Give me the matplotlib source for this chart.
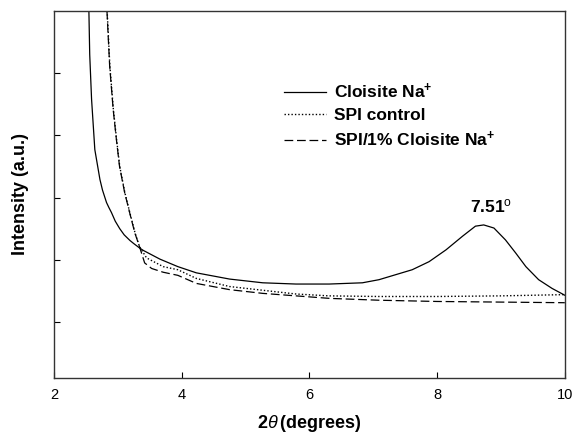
import matplotlib
matplotlib.use('Agg')
import matplotlib.pyplot as plt

plt.rcParams['font.family'] = ['Liberation Sans', 'DejaVu Sans']
plt.rcParams['mathtext.fontset'] = 'custom'
plt.rcParams['mathtext.rm'] = 'Liberation Sans'
plt.rcParams['mathtext.bf'] = 'Liberation Sans:bold'
plt.rcParams['mathtext.it'] = 'Liberation Sans:italic'

# Cloisite Na+
x_cloisite = [2.547, 2.56, 2.589, 2.64, 2.72, 2.76, 2.823, 2.86, 2.90, 2.96, 3.03, 3.10,
              3.19, 3.25, 3.34, 3.40, 3.66, 3.94, 4.23, 4.75, 5.27, 5.79, 6.31, 6.83,
              7.09, 7.61, 7.875, 8.14, 8.40, 8.60, 8.73, 8.89, 9.07, 9.23, 9.39, 9.59,
              9.80, 10.0]
y_cloisite = [6.00, 5.30, 4.58, 3.77, 3.29, 3.12, 2.92, 2.84, 2.76, 2.62, 2.50, 2.40,
              2.31, 2.26, 2.19, 2.15, 2.01, 1.89, 1.79, 1.69, 1.63, 1.61, 1.61, 1.63,
              1.68, 1.84, 1.97, 2.16, 2.38, 2.54, 2.56, 2.51, 2.32, 2.11, 1.89, 1.68,
              1.54, 1.43]

# SPI control
x_spi = [2.833, 2.875, 2.93, 2.98, 3.03, 3.11, 3.19, 3.27, 3.34, 3.45, 3.71, 3.94,
         4.23, 4.75, 5.27, 5.79, 6.31, 7.09, 8.0, 9.0, 10.0]
y_spi = [6.00, 5.12, 4.42, 3.94, 3.50, 3.08, 2.75, 2.43, 2.21, 2.03, 1.89, 1.84,
         1.70, 1.57, 1.51, 1.45, 1.42, 1.41, 1.41, 1.42, 1.44]

# SPI/1% Cloisite Na+
x_nano = [2.83, 2.872, 2.927, 2.977, 3.027, 3.107, 3.187, 3.267, 3.34, 3.42, 3.53, 3.71,
          3.94, 4.23, 4.75, 5.27, 5.79, 6.31, 7.09, 8.0, 9.0, 10.0]
y_nano = [6.00, 5.12, 4.42, 3.94, 3.50, 3.08, 2.75, 2.43, 2.21, 1.95, 1.86, 1.80,
          1.75, 1.62, 1.52, 1.46, 1.42, 1.38, 1.35, 1.33, 1.32, 1.31]

fig = plt.figure(figsize=(5.74, 4.34), dpi=100)
ax = fig.add_axes([0.094, 0.129, 0.890, 0.846])

ax.plot(x_cloisite, y_cloisite, color='black', lw=0.9, linestyle='-',
        label=r'Cloisite Na$^{\mathbf{+}}$')
ax.plot(x_spi, y_spi, color='black', lw=1.0, linestyle=(0, (1, 1.5)),
        label='SPI control')
ax.plot(x_nano, y_nano, color='black', lw=0.9, linestyle=(0, (7, 3)),
        label=r'SPI/1% Cloisite Na$^{\mathbf{+}}$')

ax.text(8.84, 2.86, r'7.51$^{\mathrm{o}}$', ha='center', va='center',
        fontsize=12.5, fontweight='bold')

ax.set_xlim(2, 10)
ax.set_ylim(0.1, 6.0)
ax.set_xticks([2, 4, 6, 8, 10])
ax.set_yticks([1, 2, 3, 4, 5])
ax.set_yticklabels([])
ax.tick_params(direction='in', length=4, width=0.8, labelsize=10.5, pad=7)
for s in ax.spines.values():
    s.set_linewidth(1.0)
    s.set_color('#333333')

ax.set_xlabel(r'$\mathbf{2}\mathit{\theta}\,\mathbf{(degrees)}$', fontsize=13, va='top')
ax.xaxis.set_label_coords(0.5, -0.095)
ax.set_ylabel('Intensity (a.u.)', fontsize=13, fontweight='bold')
ax.yaxis.set_label_coords(-0.048, 0.5)

leg = ax.legend(loc='upper left', bbox_to_anchor=(0.42, 0.85), frameon=False,
                handlelength=2.4, handletextpad=0.45, labelspacing=0.4,
                prop={'size': 12.5, 'weight': 'bold'})

fig.savefig('out.png', dpi=100)
